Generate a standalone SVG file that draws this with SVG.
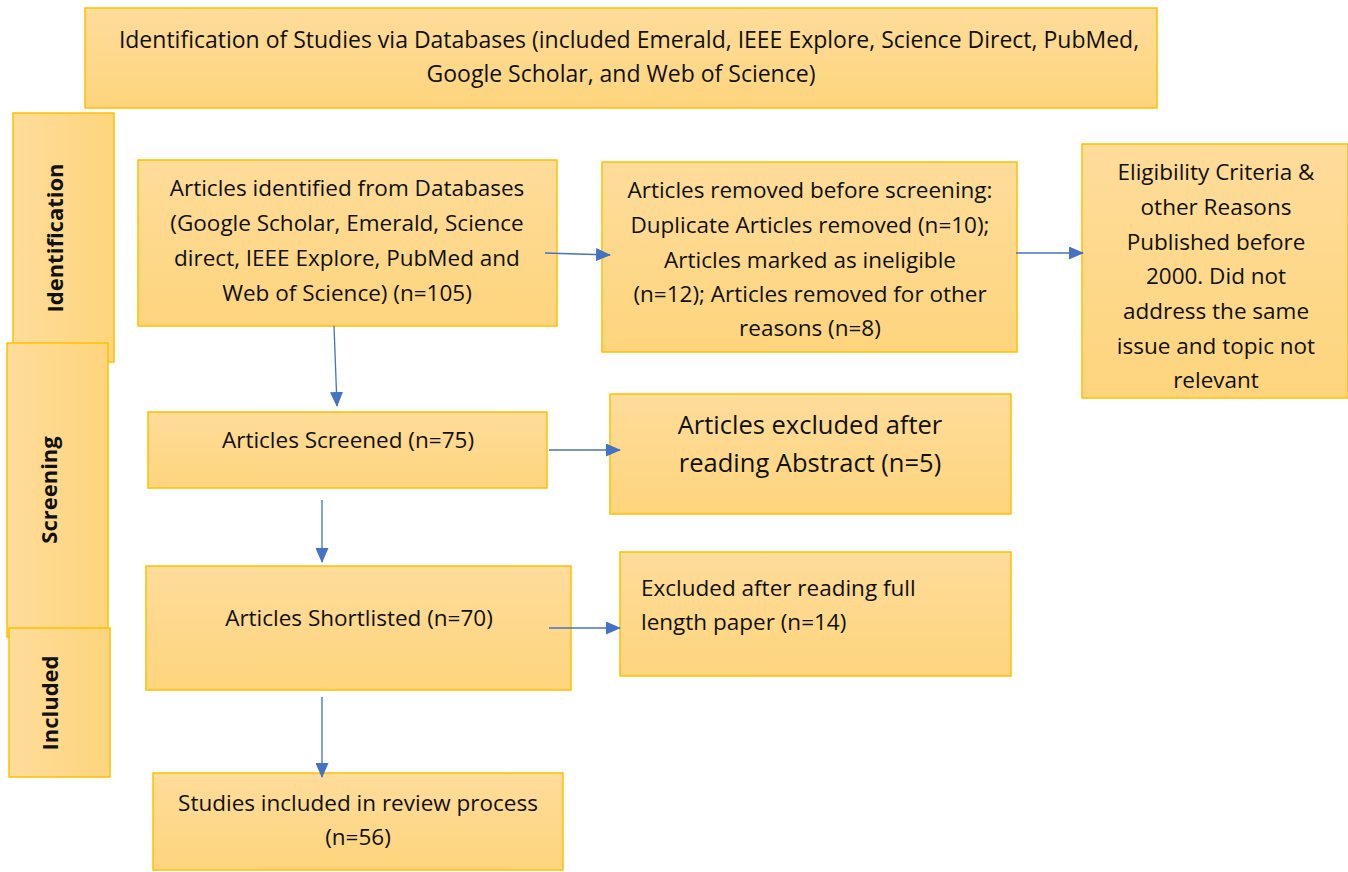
<svg xmlns="http://www.w3.org/2000/svg" width="1348" height="872" viewBox="0 0 1348 872">
<defs>
<linearGradient id="gv" x1="0" y1="0" x2="0" y2="1"><stop offset="0" stop-color="#FEDC9A"/><stop offset="1" stop-color="#FED57D"/></linearGradient>
<linearGradient id="gh" x1="0" y1="0" x2="1" y2="0"><stop offset="0" stop-color="#FEDC9A"/><stop offset="1" stop-color="#FED57D"/></linearGradient>
<marker id="ah" markerWidth="15" markerHeight="13" refX="14" refY="6.5" orient="auto" markerUnits="userSpaceOnUse"><path d="M0,0 L15,6.5 L0,13 z" fill="#4472C4"/></marker>
<style>
.b{fill:url(#gv);stroke:#FFC000;stroke-width:1.5}
.t{fill:url(#gh);stroke:#FFC000;stroke-width:1.5}
text{font-family:"Open Sans","Noto Sans",sans-serif;font-size:22.5px;fill:#111;text-anchor:middle}
.v{font-weight:bold;font-size:22px}
.c line{stroke:#4472C4;stroke-width:1.3;marker-end:url(#ah)}
</style>
</defs>
<g id="top"><rect class="b" x="85" y="8" width="1072" height="100"/>
<text x="629" y="48" style="font-size:23px">Identification of Studies via Databases (included Emerald, IEEE Explore, Science Direct, PubMed,</text>
<text x="621" y="82" style="font-size:23px">Google Scholar, and Web of Science)</text></g>
<g id="tab-identification"><rect class="t" x="13" y="113" width="101" height="249"/>
<text class="v" transform="translate(63,238) rotate(-90)">Identification</text></g>
<g id="tab-screening"><rect class="t" x="7" y="343" width="101" height="294"/>
<text class="v" transform="translate(57,490) rotate(-90)">Screening</text></g>
<g id="tab-included"><rect class="t" x="9" y="628" width="101" height="149"/>
<text class="v" transform="translate(58,703) rotate(-90)">Included</text></g>
<g id="n1"><rect class="b" x="138" y="160" width="419" height="166"/>
<text x="347" y="196">Articles identified from Databases</text>
<text x="347" y="231">(Google Scholar, Emerald, Science</text>
<text x="347" y="266">direct, IEEE Explore, PubMed and</text>
<text x="347" y="301">Web of Science) (n=105)</text></g>
<g id="n2"><rect class="b" x="602" y="162" width="415" height="190"/>
<text x="810" y="198">Articles removed before screening:</text>
<text x="810" y="233">Duplicate Articles removed (n=10);</text>
<text x="810" y="268">Articles marked as ineligible</text>
<text x="810" y="302">(n=12); Articles removed for other</text>
<text x="810" y="336">reasons (n=8)</text></g>
<g id="n3"><rect class="b" x="1082" y="144" width="266" height="254"/>
<text x="1216" y="180">Eligibility Criteria &amp;</text>
<text x="1216" y="215">other Reasons</text>
<text x="1216" y="250">Published before</text>
<text x="1216" y="284">2000. Did not</text>
<text x="1216" y="319">address the same</text>
<text x="1216" y="354">issue and topic not</text>
<text x="1216" y="388">relevant</text></g>
<g id="n4"><rect class="b" x="148" y="412" width="399" height="76"/>
<text x="348" y="448">Articles Screened (n=75)</text></g>
<g id="n5"><rect class="b" x="610" y="394" width="401" height="120"/>
<text x="810" y="434" style="font-size:25.5px">Articles excluded after</text>
<text x="810" y="472" style="font-size:25.5px">reading Abstract (n=5)</text></g>
<g id="n6"><rect class="b" x="146" y="566" width="425" height="124"/>
<text x="359" y="626">Articles Shortlisted (n=70)</text></g>
<g id="n7"><rect class="b" x="620" y="552" width="391" height="124"/>
<text x="641" y="596" style="text-anchor:start">Excluded after reading full</text>
<text x="641" y="630" style="text-anchor:start">length paper (n=14)</text></g>
<g id="n8"><rect class="b" x="153" y="773" width="410" height="97"/>
<text x="358" y="811">Studies included in review process</text>
<text x="358" y="845">(n=56)</text></g>
<g id="connectors" class="c">
<line x1="334" y1="326" x2="337" y2="406"/>
<line x1="545" y1="253" x2="610" y2="255"/>
<line x1="1016" y1="253" x2="1083" y2="253"/>
<line x1="549" y1="450" x2="620" y2="450"/>
<line x1="322" y1="500" x2="322" y2="562"/>
<line x1="549" y1="628" x2="620" y2="628"/>
<line x1="322" y1="697" x2="322" y2="777"/>
</g>
</svg>
